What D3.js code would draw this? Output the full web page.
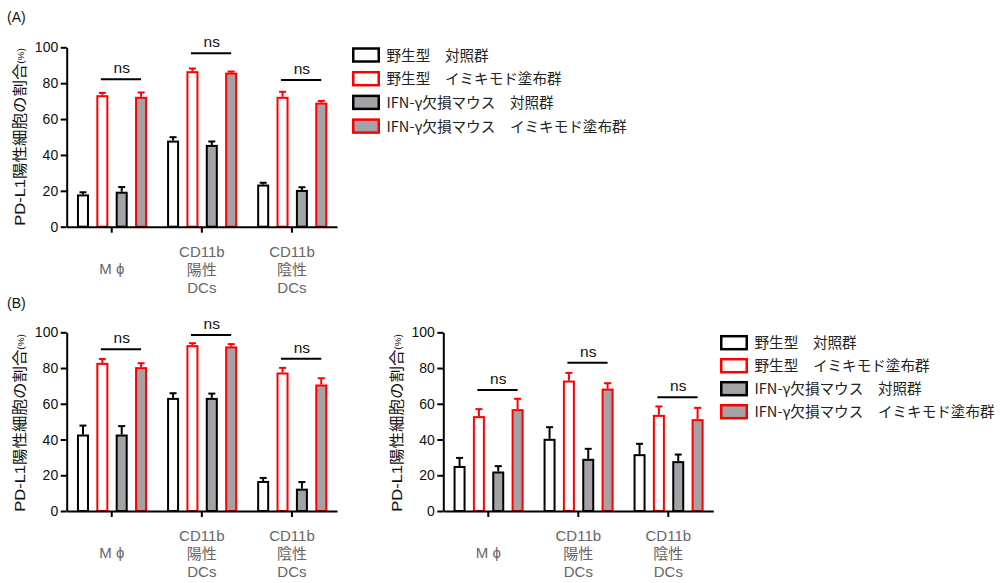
<!DOCTYPE html>
<html>
<head>
<meta charset="utf-8">
<script src="https://cdn.jsdelivr.net/npm/d3@7"></script>
<style>
  html, body { margin: 0; padding: 0; background: #fff; }
  svg { display: block; }
  text { font-family: "Liberation Sans", Arial, "Noto Sans CJK JP", sans-serif; }
  .jp { font-family: "Noto Sans CJK JP", "Noto Sans", sans-serif; }
</style>
</head>
<body>
<svg id="chart" width="1000" height="583"></svg>
<script>
// Cell types on the x axis (each label is drawn line by line)
const categories = [["M ϕ"], ["CD11b", "陽性", "DCs"], ["CD11b", "陰性", "DCs"]];
const categoryKeys = ["mphi", "cd11bPos", "cd11bNeg"];

// Mouse groups
const groupNames = [
  "野生型　対照群",
  "野生型　イミキモド塗布群",
  "IFN-γ欠損マウス　対照群",
  "IFN-γ欠損マウス　イミキモド塗布群"
];

const yTicks = [0, 20, 40, 60, 80, 100];
const yLabel = "PD-L1陽性細胞の割合";
const yUnit = "(%)";

// Panel A: mean and SEM per group, in category order
const aWtCtrl = [18.0, 48.0, 23.5];
const aWtCtrlErr = [1.2, 1.9, 1.0];
const aWtImq = [73.3, 86.7, 72.4];
const aWtImqErr = [1.3, 1.5, 2.8];
const aKoCtrl = [19.5, 45.6, 20.5];
const aKoCtrlErr = [2.6, 1.9, 1.5];
const aKoImq = [72.4, 85.9, 69.2];
const aKoImqErr = [2.4, 0.6, 0.9];
const aNsLevel = [82.2, 96.7, 81.8];

// Panel B, left
const bWtCtrl = [42.8, 63.3, 16.8];
const bWtCtrlErr = [5.0, 2.6, 1.7];
const bWtImq = [82.9, 92.8, 77.5];
const bWtImqErr = [2.2, 1.1, 2.6];
const bKoCtrl = [42.8, 63.3, 12.5];
const bKoCtrlErr = [4.7, 2.4, 3.7];
const bKoImq = [80.5, 92.1, 70.8];
const bKoImqErr = [2.2, 1.3, 3.5];
const bNsLevel = [90.5, 98.5, 85.2];

// Panel B, right
const cWtCtrl = [25.2, 40.4, 31.8];
const cWtCtrlErr = [4.5, 6.5, 5.8];
const cWtImq = [53.1, 73.0, 53.8];
const cWtImqErr = [3.9, 4.3, 4.7];
const cKoCtrl = [22.1, 29.2, 27.9];
const cKoCtrlErr = [3.0, 5.6, 3.7];
const cKoImq = [57.0, 68.5, 51.4];
const cKoImqErr = [5.8, 3.0, 6.3];
const cNsLevel = [67.7, 83.0, 63.6];

// Visual style of each group: outline colour and fill
const groupStroke = ["#000000", "#ff0000", "#000000", "#ff0000"];
const groupFill = ["#ffffff", "#ffffff", "#a3a3a7", "#a3a3a7"];

const svg = d3.select("#chart");

function seriesTable(means, errs) {
  return categoryKeys.map((k, ci) => ({
    key: k,
    values: means.map((m, gi) => ({ group: gi, mean: m[ci], err: errs[gi][ci] }))
  }));
}

function drawPanel(opts) {
  const g = svg.append("g");
  const x = d3.scaleBand().domain(categoryKeys).range([opts.x0, opts.x1]).padding(0);
  const y = d3.scaleLinear().domain([0, 100]).range([opts.yBottom, opts.yTop]);
  const bw = x.bandwidth();
  const sub = d3.scaleBand().domain(d3.range(4))
    .range([bw * 0.114, bw * 0.892]).paddingInner(0.38).paddingOuter(0);
  const barW = sub.bandwidth() - 2;

  const table = seriesTable(opts.means, opts.errs);

  const cat = g.selectAll("g.cat").data(table).join("g")
    .attr("class", "cat")
    .attr("transform", d => `translate(${x(d.key)},0)`);

  const item = cat.selectAll("g.bar").data(d => d.values).join("g").attr("class", "bar");

  // error bars (upper half only)
  item.append("line")
    .attr("x1", d => sub(d.group) + sub.bandwidth() / 2)
    .attr("x2", d => sub(d.group) + sub.bandwidth() / 2)
    .attr("y1", d => y(d.mean))
    .attr("y2", d => y(d.mean + d.err))
    .attr("stroke", d => groupStroke[d.group]).attr("stroke-width", 2);
  item.append("line")
    .attr("x1", d => sub(d.group) + sub.bandwidth() / 2 - 3.5)
    .attr("x2", d => sub(d.group) + sub.bandwidth() / 2 + 3.5)
    .attr("y1", d => y(d.mean + d.err))
    .attr("y2", d => y(d.mean + d.err))
    .attr("stroke", d => groupStroke[d.group]).attr("stroke-width", 2);

  // bars
  item.append("rect")
    .attr("x", d => sub(d.group) + 1)
    .attr("width", barW)
    .attr("y", d => y(d.mean) + 1)
    .attr("height", d => y(0) - y(d.mean) - 1)
    .attr("fill", d => groupFill[d.group])
    .attr("stroke", d => groupStroke[d.group])
    .attr("stroke-width", 2);

  // "ns" comparisons between the two imiquimod groups
  const ns = cat.append("g");
  ns.append("line")
    .attr("x1", sub(1) + sub.bandwidth() / 2 - 1.5)
    .attr("x2", sub(3) + sub.bandwidth() / 2)
    .attr("y1", (d, i) => y(opts.ns[i]))
    .attr("y2", (d, i) => y(opts.ns[i]))
    .attr("stroke", "#000").attr("stroke-width", 2);
  ns.append("text")
    .attr("x", (sub(1) + sub(3)) / 2 + sub.bandwidth() / 2)
    .attr("y", (d, i) => y(opts.ns[i]) - 6)
    .attr("text-anchor", "middle")
    .attr("font-size", 15.5)
    .attr("fill", "#111")
    .text("ns");

  // y axis
  const yAxis = g.append("g")
    .attr("transform", `translate(${opts.x0},0)`)
    .call(d3.axisLeft(y).tickValues(yTicks).tickSize(6).tickPadding(2.5).tickSizeOuter(0));
  yAxis.select(".domain").attr("stroke-width", 2);
  yAxis.selectAll(".tick line").attr("stroke-width", 2);
  yAxis.selectAll(".tick text").attr("font-size", 14).attr("fill", "#111")
    .style("font-family", "'Liberation Sans', Arial, sans-serif");

  // x axis
  const xAxis = g.append("g")
    .attr("transform", `translate(0,${opts.yBottom})`)
    .call(d3.axisBottom(x).tickSize(6).tickSizeOuter(0).tickFormat(() => ""));
  xAxis.select(".domain").attr("stroke-width", 2);
  xAxis.selectAll(".tick line").attr("stroke-width", 2);

  // category labels
  const lab = g.selectAll("text.cat").data(categoryKeys).join("text")
    .attr("class", "cat")
    .attr("text-anchor", "middle")
    .attr("font-size", 15)
    .attr("fill", "#666")
    .attr("transform", k => `translate(${x(k) + bw / 2},${opts.yBottom})`);
  lab.each(function (k, i) {
    const lines = categories[i];
    const t = d3.select(this);
    const first = lines.length === 1 ? 47 : 30;
    lines.forEach((ln, j) => {
      t.append("tspan").attr("x", 0).attr("y", first + j * 18)
        .attr("class", /[\u3040-\u9fff]/.test(ln) ? "jp" : null)
        .text(ln);
    });
  });

  // y axis title (slightly stretched along its length)
  const yt = g.append("text")
    .attr("transform", `translate(${opts.labelX},${opts.labelY}) rotate(-90) scale(1.1,1)`)
    .attr("text-anchor", "middle")
    .attr("fill", "#111");
  yt.append("tspan").attr("font-size", 15).text("PD-L1");
  yt.append("tspan").attr("class", "jp").attr("font-size", 15).text(yLabel.replace("PD-L1", ""));
  yt.append("tspan").attr("font-size", 9).attr("dy", -1).text(yUnit);
}

function drawLegend(x0, y0, step) {
  const lg = svg.append("g").attr("transform", `translate(${x0},${y0})`);
  const row = lg.selectAll("g").data(groupNames).join("g")
    .attr("transform", (d, i) => `translate(0,${i * step})`);
  row.append("rect")
    .attr("x", 1.25).attr("y", -6.5).attr("width", 25.5).attr("height", 13)
    .attr("fill", (d, i) => groupFill[i])
    .attr("stroke", (d, i) => groupStroke[i])
    .attr("stroke-width", 2.5);
  row.append("text")
    .attr("class", "jp")
    .attr("x", 34.5).attr("y", 5.5)
    .attr("font-size", 14.6)
    .attr("fill", "#222")
    .text(d => d);
}

const aMeans = [aWtCtrl, aWtImq, aKoCtrl, aKoImq];
const aErrs = [aWtCtrlErr, aWtImqErr, aKoCtrlErr, aKoImqErr];
const bMeans = [bWtCtrl, bWtImq, bKoCtrl, bKoImq];
const bErrs = [bWtCtrlErr, bWtImqErr, bKoCtrlErr, bKoImqErr];
const cMeans = [cWtCtrl, cWtImq, cKoCtrl, cKoImq];
const cErrs = [cWtCtrlErr, cWtImqErr, cKoCtrlErr, cKoImqErr];

drawPanel({ x0: 66.7, x1: 337, yBottom: 226.7, yTop: 47.3, means: aMeans, errs: aErrs, ns: aNsLevel, labelX: 25, labelY: 137 });
drawPanel({ x0: 66.7, x1: 337, yBottom: 511, yTop: 332.3, means: bMeans, errs: bErrs, ns: bNsLevel, labelX: 25, labelY: 423 });
drawPanel({ x0: 443.3, x1: 713.3, yBottom: 511, yTop: 332.3, means: cMeans, errs: cErrs, ns: cNsLevel, labelX: 402, labelY: 423 });

drawLegend(352, 55, 23.7);
drawLegend(720, 342.7, 23);

// panel letters
svg.append("text").attr("x", 7).attr("y", 22).attr("font-size", 14).attr("fill", "#111").text("(A)");
svg.append("text").attr("x", 7).attr("y", 308).attr("font-size", 14).attr("fill", "#111").text("(B)");
</script>
</body>
</html>
